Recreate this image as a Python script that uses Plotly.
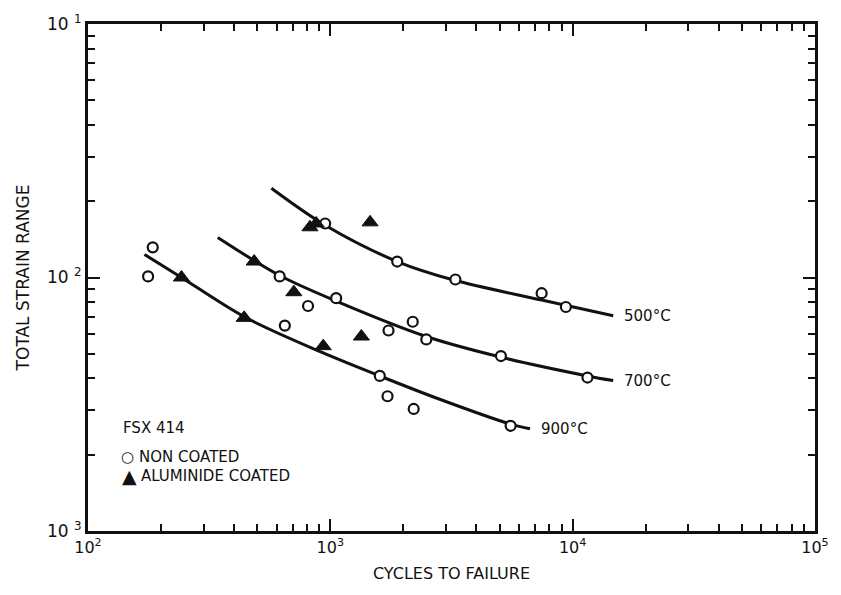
import math
import plotly.graph_objects as go

# Non-coated specimens (open circles): cycles to failure, total strain range
nc_cycles = [185, 177, 952, 1888, 3281, 7447, 9376,
             618, 809, 1057, 649, 1738, 2188, 2489, 5058, 11510,
             1600, 1722, 2208, 5546]
nc_strain = [0.01315, 0.0101, 0.01633, 0.01156, 0.00982, 0.00867, 0.00765,
             0.0101, 0.00772, 0.00829, 0.00646, 0.00618, 0.00669, 0.0057, 0.0049, 0.00403,
             0.00409, 0.0034, 0.00303, 0.0026]

# Aluminide coated specimens (filled triangles)
ac_cycles = [243, 441, 485, 707, 824, 874, 1459, 935, 1343]
ac_strain = [0.0100, 0.00693, 0.01156, 0.00875, 0.01578, 0.01633, 0.0165, 0.00536, 0.00585]

# Fitted curves per test temperature
c500_cycles = [571, 952, 1888, 3281, 7447, 14700]
c500_strain = [0.02249, 0.01607, 0.01156, 0.00973, 0.00815, 0.00706]
c700_cycles = [343, 618, 1057, 2489, 5058, 11510, 14700]
c700_strain = [0.01439, 0.01018, 0.00807, 0.00585, 0.00485, 0.00409, 0.00392]
c900_cycles = [171, 243, 441, 935, 1629, 2754, 5546, 6668]
c900_strain = [0.01233, 0.0100, 0.0070, 0.00504, 0.00406, 0.00334, 0.00264, 0.00253]

curve_labels = ["500°C", "700°C", "900°C"]

x_tickvals = [1e2, 1e3, 1e4, 1e5]
x_ticktext = ["10<sup>2</sup>", "10<sup>3</sup>", "10<sup>4</sup>", "10<sup>5</sup>"]
y_tickvals = [1e-3, 1e-2, 1e-1]
y_ticktext = ["10 <sup>3</sup>", "10 <sup>2</sup>", "10 <sup>1</sup>"]

INK = "#111111"
FONT = "DejaVu Sans, Verdana, sans-serif"

fig = go.Figure()

curves = [(c500_cycles, c500_strain), (c700_cycles, c700_strain), (c900_cycles, c900_strain)]
for (cx, cy), lab in zip(curves, curve_labels):
    fig.add_trace(go.Scatter(
        x=cx, y=cy, mode="lines", line=dict(color=INK, width=3, shape="spline", smoothing=0.9),
        showlegend=False, hoverinfo="skip"))
    # annotation positions on log axes are given in log10 units
    fig.add_annotation(x=math.log10(cx[-1]), y=math.log10(cy[-1]), xref="x", yref="y", text=lab,
                       showarrow=False, xanchor="left", yanchor="middle", xshift=9,
                       font=dict(family=FONT, size=15, color=INK))

fig.add_trace(go.Scatter(
    x=nc_cycles, y=nc_strain, mode="markers", name="NON COATED", showlegend=False,
    marker=dict(symbol="circle", size=10, color="white", line=dict(color=INK, width=2.2))))
fig.add_trace(go.Scatter(
    x=ac_cycles, y=ac_strain, mode="markers", name="ALUMINIDE COATED", showlegend=False,
    marker=dict(symbol="triangle-up", size=14, color=INK, line=dict(color=INK, width=1))))

# Key in the lower-left corner of the plot
key_font = dict(family=FONT, size=15, color=INK)
key = [
    (0.045, 0.2035, "left", "FSX 414", 15),
    (0.0545, 0.1468, "center", "○", 15),
    (0.0668, 0.1468, "left", "NON COATED", 15),
    (0.0575, 0.1090, "center", "▲", 19),
    (0.0695, 0.1076, "left", "ALUMINIDE COATED", 15),
]
for kx, ky, anchor, txt, sz in key:
    fig.add_annotation(x=kx, y=ky, xref="paper", yref="paper", text=txt, showarrow=False,
                       xanchor=anchor, yanchor="middle", font=dict(family=FONT, size=sz, color=INK))

axis_common = dict(
    type="log", showline=True, linewidth=3, linecolor=INK, mirror="ticks",
    ticks="inside", ticklen=12, tickwidth=2, tickcolor=INK, showgrid=False, zeroline=False,
    tickmode="array",
    minor=dict(ticks="inside", ticklen=7, tickwidth=2, tickcolor=INK, dtick="D1", showgrid=False),
)

fig.update_xaxes(range=[2, 5], tickvals=x_tickvals, ticktext=x_ticktext,
                 tickfont=dict(family=FONT, size=16, color=INK),
                 title=dict(text="CYCLES TO FAILURE", font=dict(family=FONT, size=16, color=INK), standoff=12),
                 **axis_common)
fig.update_yaxes(range=[-3, -1], tickvals=y_tickvals, ticktext=y_ticktext,
                 tickfont=dict(family=FONT, size=17, color=INK),
                 title=dict(text="TOTAL STRAIN RANGE", font=dict(family=FONT, size=17, color=INK), standoff=14),
                 **axis_common)

fig.update_layout(
    width=841, height=595,
    margin=dict(l=88, r=19, t=20, b=64),
    paper_bgcolor="white", plot_bgcolor="white",
    font=dict(family=FONT, color=INK),
    showlegend=False,
)

fig.write_html("out.html")
